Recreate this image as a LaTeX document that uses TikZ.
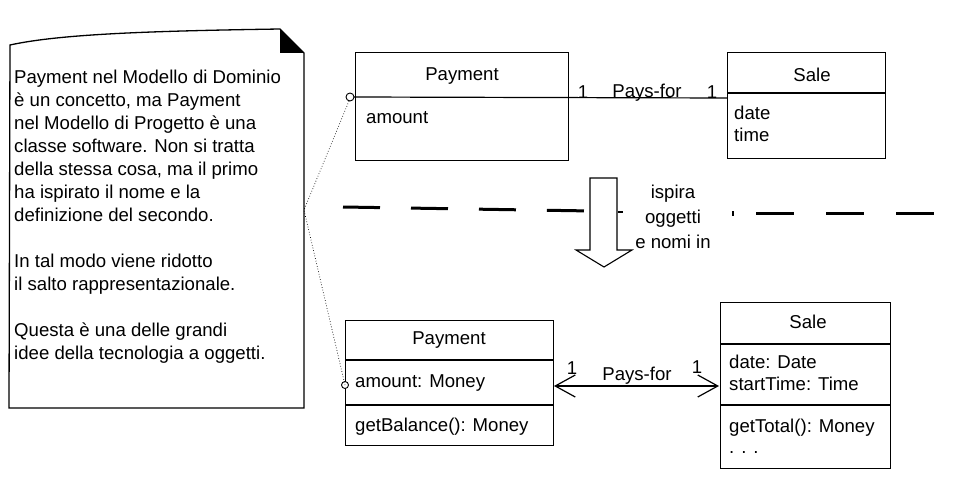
\documentclass[tikz,border=0pt]{standalone}
\usepackage{fontspec}
\setmainfont{Liberation Sans}
\usetikzlibrary{arrows.meta}
\begin{document}
\begin{tikzpicture}[x=1pt,y=-1pt,
  txt/.style={font=\fontsize{18.6}{23}\selectfont, inner sep=0pt},
  umlbox/.style={draw, line width=1.2pt, minimum width=#1, inner sep=0pt, anchor=north west},
  ln/.style={line width=1.2pt},
  dotline/.style={line width=0.7pt, dotted}
]
\useasboundingbox[fill=white] (0,0) rectangle (960,476);
% note
\draw[line width=1.3pt, fill=white] (10,45) .. controls (60,34) and (150,31) .. (280,29) -- (304,53) -- (304,408) -- (9,408) -- cycle;
\fill (280,29) -- (304,53) -- (280,53) -- cycle;
\node[txt, anchor=north west, align=left] (note) at (14,70) {Payment nel Modello di Dominio\\
è un concetto, ma Payment\\
nel Modello di Progetto è una\\
classe software. Non si tratta\\
della stessa cosa, ma il primo\\
ha ispirato il nome e la\\
definizione del secondo.\\[23pt]
In tal modo viene ridotto\\
il salto rappresentazionale.\\[23pt]
Questa è una delle grandi\\
idee della tecnologia a oggetti.};
\coordinate (nv) at (304,210);

% top Payment
\node[umlbox=213pt, minimum height=108pt] (p1) at (355,52) {};
\node[txt] (p1t) at (462,76) {Payment};
\node[txt, anchor=west] (p1a) at (366,118) {amount};
\coordinate (c1) at (350,97);
% top Sale
\node[umlbox=158pt, minimum height=106pt] (s1) at (727,52) {};
\draw[ln] (727,93) -- (885,93);
\node[txt] (s1t) at (812,75) {Sale};
\node[txt, anchor=north west, align=left] (s1a) at (734,106) {date\\[-1pt]time};
\coordinate (s1l) at (727,98);
\draw[ln] (c1) ++(4,0) -- (s1l);
\draw[line width=0.9pt] (c1) circle (4);
\node[txt] (m1a) at (583,92) {1};
\node[txt] (m1l) at (647,93) {Pays-for};
\node[txt] (m1b) at (712,92) {1};

% dashed separator
\draw[line width=3pt, dash pattern=on 37pt off 31pt] (343,207) -- (592,211);
\draw[line width=2pt] (618,212) -- (623,212);
\draw[line width=2pt] (733,211) -- (733,216);
\draw[line width=3pt, dash pattern=on 38pt off 32pt] (756,213) -- (940,213);
% hollow arrow
\draw[line width=1.1pt, fill=white] (590,178) -- (617,178) -- (617,250) -- (632,250) -- (604,267) -- (576,250) -- (590,250) -- cycle;
\node[txt, align=center, font=\fontsize{18.6}{25}\selectfont] (insp) at (673,217) {ispira\\oggetti\\e nomi in};

% bottom Payment
\node[umlbox=208pt, minimum height=125pt] (p2) at (345,320) {};
\draw[ln] (345,360) -- (553,360);
\draw[ln] (345,405) -- (553,405);
\node[txt] (p2t) at (449,340) {Payment};
\node[txt, anchor=west] (p2a) at (355,383) {amount: Money};
\node[txt, anchor=west] (p2o) at (355,427) {getBalance(): Money};
\coordinate (c2) at (345,385);
\draw[line width=0.9pt, fill=white] (c2) circle (3.5);
% bottom Sale
\node[umlbox=170pt, minimum height=166pt] (s2) at (720,302) {};
\draw[ln] (720,344) -- (890,344);
\draw[ln] (720,405) -- (890,405);
\node[txt] (s2t) at (808,322) {Sale};
\node[txt, anchor=north west, align=left] (s2a) at (729,355) {date: Date\\[-1pt]startTime: Time};
\node[txt, anchor=west] (s2o) at (729,428) {getTotal(): Money};
\node[txt, anchor=west] (s2d) at (729,452) {. . .};
\coordinate (p2r) at (554,386);
\coordinate (s2l) at (719,386);
\draw[ln, {Straight Barb[length=20pt,width=22pt,line width=1.2pt]}-{Straight Barb[length=20pt,width=22pt,line width=1.2pt]}] (p2r) -- (s2l);
\node[txt] (m2a) at (572,368) {1};
\node[txt] (m2l) at (637,376) {Pays-for};
\node[txt] (m2b) at (697,367) {1};

% dotted links
\draw[dotline] (c1) ++(-1,4) -- (nv) -- (c2);
\end{tikzpicture}
\end{document}
